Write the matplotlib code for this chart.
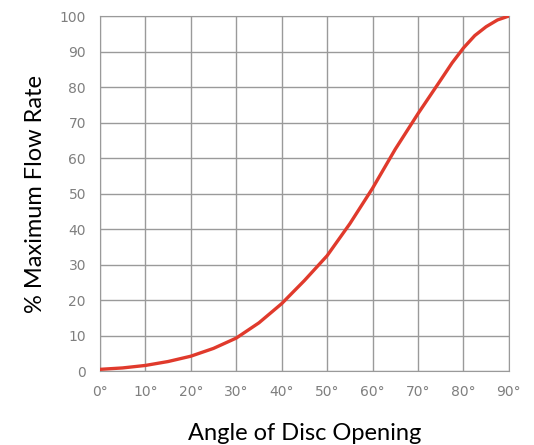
import numpy as np
import matplotlib.pyplot as plt

# angle of disc opening (deg) vs % of maximum flow rate
angle = [0, 5, 10, 15, 20, 25, 30, 35, 40, 45, 50, 55, 60, 65, 70, 75, 77.5, 80, 82.5, 85, 87.5, 90]
flow = [0.5, 0.9, 1.6, 2.7, 4.2, 6.4, 9.3, 13.6, 19, 25.5, 32.5, 41.5, 51.5, 62.5, 72.5, 82, 86.8, 91, 94.5, 97, 98.9, 100]

xticks = list(range(0, 100, 10))
xlabels = [f'{t}°' for t in xticks]
yticks = list(range(0, 110, 10))

fig = plt.figure(figsize=(5.34, 4.45), dpi=100)
ax = fig.add_axes([0.187, 0.166, 0.766, 0.798])

ax.plot(angle, flow, color='#e03a2c', lw=2.4, solid_capstyle='round',
        solid_joinstyle='round', zorder=3)

ax.set_xlim(0, 90)
ax.set_ylim(0, 100)
ax.set_xticks(xticks)
ax.set_xticklabels(xlabels)
ax.set_yticks(yticks)
ax.grid(True, color='#9a9a9a', lw=1.0)
ax.tick_params(length=0, labelsize=10, labelcolor='#7f7f7f', pad=10)
for s in ax.spines.values():
    s.set_color('#9a9a9a')

ax.set_xlabel('Angle of Disc Opening', fontsize=17, family='Lato', labelpad=17)
ax.set_ylabel('% Maximum Flow Rate', fontsize=17, family='Lato', labelpad=10)

fig.savefig('out.png', dpi=100)
